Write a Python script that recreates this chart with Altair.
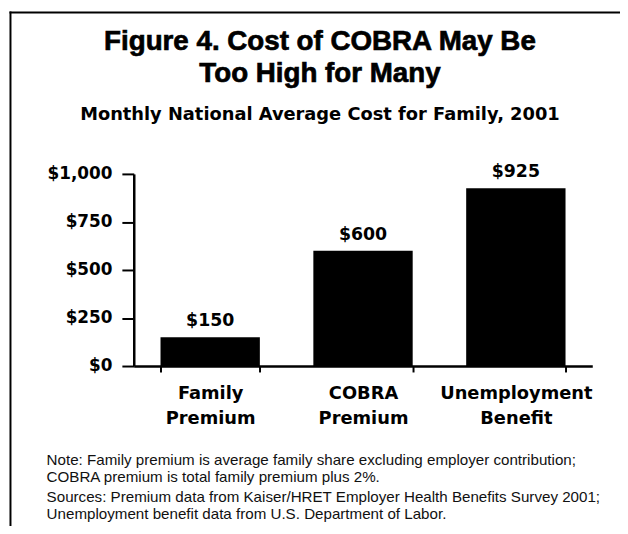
import altair as alt
import pandas as pd

categories = ["Family Premium", "COBRA Premium", "Unemployment Benefit"]
values = [150, 600, 925]
value_labels = ["$150", "$600", "$925"]
y_ticks = [0, 250, 500, 750, 1000]

title_lines = ["Figure 4. Cost of COBRA May Be", "Too High for Many"]
subtitle = "Monthly National Average Cost for Family, 2001"
note_lines = [
    "Note: Family premium is average family share excluding employer contribution;",
    "COBRA premium is total family premium plus 2%.",
]
source_lines = [
    "Sources: Premium data from Kaiser/HRET Employer Health Benefits Survey 2001;",
    "Unemployment benefit data from U.S. Department of Labor.",
]

df = pd.DataFrame({"category": categories, "value": values, "label": value_labels})
one = alt.Data(values=[{}])

BOLD = "DejaVu Sans"
x_enc = alt.X(
    "category:N",
    sort=categories,
    title=None,
    scale=alt.Scale(paddingInner=0.35, paddingOuter=0.175),
    axis=alt.Axis(
        labelAngle=0,
        tickBand="extent",
        tickSize=6,
        tickWidth=2,
        tickColor="black",
        domainWidth=2.5,
        domainColor="black",
        labelExpr="split(datum.label, ' ')",
        labelFont=BOLD,
        labelFontWeight="bold",
        labelFontSize=18,
        labelColor="black",
        labelLineHeight=25,
        labelPadding=13,
        labelBaseline="top",
    ),
)
y_enc = alt.Y(
    "value:Q",
    title=None,
    scale=alt.Scale(domain=[0, 1000], nice=False),
    axis=alt.Axis(
        values=y_ticks,
        format="$,.0f",
        grid=False,
        tickSize=12,
        tickWidth=2,
        tickColor="black",
        domainWidth=2.5,
        domainColor="black",
        labelFont=BOLD,
        labelFontWeight="bold",
        labelFontSize=17,
        labelColor="black",
        labelPadding=10,
    ),
)

bars = alt.Chart(df).mark_bar(color="black").encode(x=x_enc, y=y_enc)
labels = alt.Chart(df).mark_text(
    font=BOLD, fontWeight="bold", fontSize=17.5, color="black", dy=-11, baseline="alphabetic"
).encode(x=alt.X("category:N", sort=categories), y="value:Q", text="label:N")

title_mark = alt.Chart(one).mark_text(
    align="center", baseline="alphabetic", font="Liberation Sans", fontWeight="bold",
    fontSize=28, lineHeight=32, color="black", stroke="black", strokeWidth=0.7
).encode(x=alt.value(188), y=alt.value(-125), text=alt.value(title_lines))
subtitle_mark = alt.Chart(one).mark_text(
    align="center", baseline="alphabetic", font=BOLD, fontWeight="bold",
    fontSize=18, color="black"
).encode(x=alt.value(188), y=alt.value(-54), text=alt.value(subtitle))

notes = alt.Chart(one).mark_text(
    align="left", baseline="alphabetic", font="Liberation Sans", fontSize=15.3,
    lineHeight=17.6, color="#111"
).encode(x=alt.value(-88), y=alt.value(293.7), text=alt.value(note_lines))
sources = alt.Chart(one).mark_text(
    align="left", baseline="alphabetic", font="Liberation Sans", fontSize=15.3,
    lineHeight=17.4, color="#111"
).encode(x=alt.value(-88), y=alt.value(331.3), text=alt.value(source_lines))

border_left = alt.Chart(one).mark_rule(color="black", strokeWidth=2).encode(
    x=alt.value(-124.5), y=alt.value(-164), y2=alt.value(400)
)
border_top = alt.Chart(one).mark_rule(color="black", strokeWidth=2).encode(
    x=alt.value(-125.5), x2=alt.value(500), y=alt.value(-163)
)

chart = alt.layer(
    bars, labels, title_mark, subtitle_mark, notes, sources, border_left, border_top
).properties(
    width=463,
    height=194,
    padding={"left": 127, "top": 165, "right": 28, "bottom": 159},
    autosize=alt.AutoSizeParams(type="none"),
).configure_view(stroke=None)

chart.save("out.html", embed_options={"renderer": "svg", "actions": False})
